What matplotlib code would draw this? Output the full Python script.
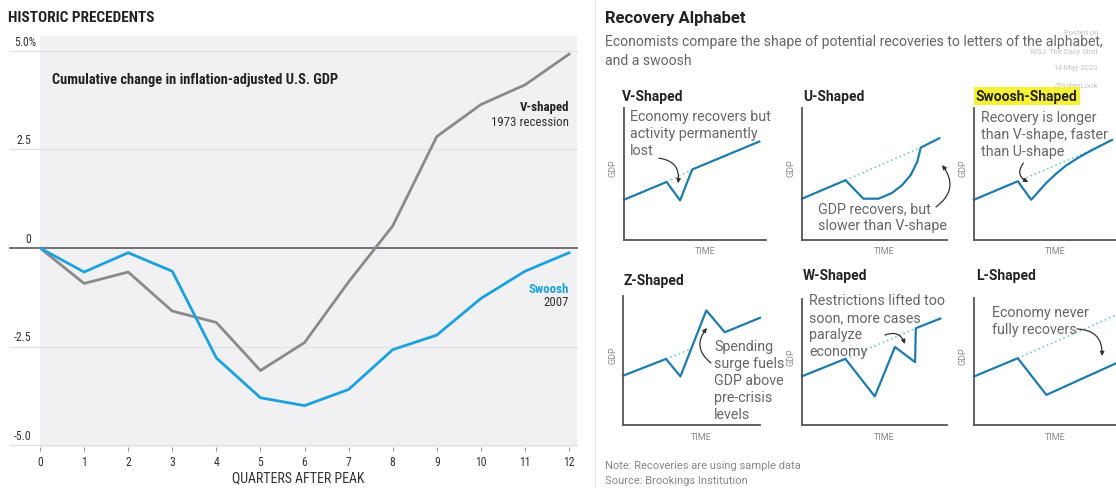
import matplotlib
matplotlib.use('Agg')
import matplotlib.pyplot as plt
from matplotlib.lines import Line2D
from matplotlib import font_manager

W, H = 1116, 489

# pick a condensed face for the left chart if one is installed
_fonts = font_manager.fontManager.ttflist
_names = {f.name for f in _fonts}
NARROW_STRETCH = 'normal'
NARROW = None
for cand in ['Liberation Sans Narrow', 'Roboto Condensed', 'DejaVu Sans Condensed', 'Open Sans Condensed']:
    if cand in _names:
        NARROW = [cand, 'DejaVu Sans']
        break
if NARROW is None:
    if any(f.name == 'DejaVu Sans' and f.stretch == 'condensed' for f in _fonts):
        NARROW = ['DejaVu Sans']
        NARROW_STRETCH = 'condensed'
    else:
        NARROW = ['Roboto', 'DejaVu Sans']
SANS = ['Roboto', 'DejaVu Sans']

# left chart: cumulative change in real GDP (%), quarters after peak
quarters = list(range(13))
v_shaped_1973 = [0, -0.90, -0.61, -1.60, -1.89, -3.11, -2.40, -0.86, 0.56, 2.83, 3.64, 4.14, 4.92]
swoosh_2007 = [0, -0.61, -0.12, -0.59, -2.79, -3.80, -4.00, -3.59, -2.58, -2.21, -1.28, -0.59, -0.12]
y_ticks = [5.0, 2.5, 0, -2.5, -5.0]
y_tick_labels = ['5.0%', '2.5', '0', '-2.5', '-5.0']

# right panel: sample recovery shapes (axes fraction units)
v_x = [0, 0.30, 0.395, 0.48, 0.953]
v_y = [0.305, 0.44, 0.30, 0.534, 0.746]
v_trend_x = [0.30, 0.48]
v_trend_y = [0.44, 0.534]

u_x = [0, 0.30, 0.423, 0.528, 0.62, 0.69, 0.749, 0.795, 0.819, 0.947]
u_y = [0.313, 0.453, 0.313, 0.313, 0.356, 0.415, 0.491, 0.593, 0.70, 0.771]
u_trend_x = [0.30, 0.819]
u_trend_y = [0.453, 0.70]

sw_x = [0, 0.306, 0.40, 0.459, 0.506, 0.576, 0.647, 0.741, 0.835, 0.965]
sw_y = [0.305, 0.445, 0.305, 0.376, 0.433, 0.504, 0.567, 0.631, 0.687, 0.758]
sw_trend_x = [0.306, 0.835]
sw_trend_y = [0.445, 0.687]

z_x = [0, 0.314, 0.419, 0.608, 0.743, 1.0]
z_y = [0.382, 0.512, 0.377, 0.888, 0.719, 0.831]
z_trend_x = [0.314, 0.50]
z_trend_y = [0.512, 0.59]

w_x = [0, 0.299, 0.502, 0.641, 0.78, 0.785, 0.954]
w_y = [0.387, 0.525, 0.227, 0.619, 0.499, 0.768, 0.845]
w_trend_x = [0.299, 0.785]
w_trend_y = [0.525, 0.768]

l_x = [0, 0.306, 0.506, 0.995]
l_y = [0.382, 0.526, 0.237, 0.487]
l_trend_x = [0.306, 0.995]
l_trend_y = [0.526, 0.866]


def box(x0, y0, x1, y1):
    return [x0 / W, 1 - y1 / H, (x1 - x0) / W, (y1 - y0) / H]


fig = plt.figure(figsize=(W / 100, H / 100), dpi=100)
fig.patch.set_facecolor('white')


def ftext(x, y, s, **kw):
    kw.setdefault('va', 'center')
    fig.text(x / W, 1 - y / H, s, **kw)


NK = dict(family=NARROW, fontstretch=NARROW_STRETCH)

# ---------------- left chart ----------------
ax = fig.add_axes(box(40, 37, 577, 448))
ax.set_facecolor('#f1f1f4')
ax.set_xlim(0, 12.18)
ax.set_ylim(-5.05, 5.38)
for s in ax.spines.values():
    s.set_visible(False)

for v, lab in zip(y_ticks, y_tick_labels):
    if v == 0:
        ax.axhline(v, xmin=-0.056, xmax=1, color='#666666', lw=1.3, clip_on=False, zorder=2)
    else:
        ax.axhline(v, xmin=-0.056, xmax=1, color='#e2e2e6', lw=1.0, clip_on=False, zorder=1)
    xoff = -0.006 if lab.endswith('%') else -0.017
    ax.text(xoff, v + 0.08, lab, transform=ax.get_yaxis_transform(), ha='right', va='bottom',
            fontsize=8.5, color='#333333', **NK)

ax.plot(quarters, v_shaped_1973, color='#8a8a8a', lw=2.0, zorder=3)
ax.plot(quarters, swoosh_2007, color='#1ba1dc', lw=2.0, zorder=4)

ax.set_yticks([])
ax.set_xticks(quarters)
ax.set_xticklabels([str(q) for q in quarters], fontsize=8.5, color='#333333', **NK)
ax.tick_params(axis='x', length=3, width=0.8, color='#999999', pad=3)
ftext(298, 478, 'QUARTERS AFTER PEAK', fontsize=10, color='#333333', ha='center', **NK)

ax.text(12, 3.60, 'V-shaped', ha='right', va='center', fontsize=9.3, fontweight='bold',
        color='#222222', **NK)
ax.text(12, 3.22, '1973 recession', ha='right', va='center', fontsize=9.3, color='#333333', **NK)
ax.text(12, -1.02, 'Swoosh', ha='right', va='center', fontsize=9.3, fontweight='bold',
        color='#1ba1dc', **NK)
ax.text(12, -1.37, '2007', ha='right', va='center', fontsize=9.3, color='#333333', **NK)

ftext(8, 18, 'HISTORIC PRECEDENTS', fontsize=11, fontweight='bold', color='#222222', **NK)
ftext(52, 80, 'Cumulative change in inflation-adjusted U.S. GDP', fontsize=10.4, fontweight='bold',
      color='#222222', **NK)

# separator
fig.add_artist(Line2D([595 / W, 595 / W], [0, 1], color='#e6e6e6', lw=1.0))

# ---------------- right panel ----------------
ftext(605, 18, 'Recovery Alphabet', fontsize=12, fontweight='bold', color='#222222', family=SANS)
ftext(605, 42, 'Economists compare the shape of potential recoveries to letters of the alphabet,',
      fontsize=10.05, color='#666666', family=SANS)
ftext(605, 61, 'and a swoosh', fontsize=10.05, color='#666666', family=SANS)

for y, s in [(33, 'Posted on'), (52, 'WSJ: The Daily Shot'), (68, '14-May-2020'), (86, '@SoberLook')]:
    ftext(1098, y, s, fontsize=5.5, color='#c4c4c4', ha='right', family=SANS)

LINE_C = '#1e7bab'
TREND_C = '#8ccbd6'


def mini(rect, title_xy, title, xs, ys, tx, ty, note_xy, note, a_from, a_to, rad, time_y, highlight=False):
    m = fig.add_axes(box(*rect))
    m.set_xlim(0, 1)
    m.set_ylim(0, 1)
    m.patch.set_alpha(0)
    m.spines['top'].set_visible(False)
    m.spines['right'].set_visible(False)
    for k in ('left', 'bottom'):
        m.spines[k].set_color('#555555')
        m.spines[k].set_linewidth(1.3)
    m.set_xticks([])
    m.set_yticks([])
    m.plot(tx, ty, color=TREND_C, lw=1.3, ls=(0, (1, 1.5)), clip_on=False)
    m.plot(xs, ys, color=LINE_C, lw=1.6, clip_on=False)
    m.text(-0.075, 0.55, 'GDP', rotation=90, transform=m.transAxes, ha='center', va='center',
           fontsize=6.5, color='#888888', family=SANS)
    m.text(0.57, time_y, 'TIME', transform=m.transAxes, ha='center', va='center',
           fontsize=6.5, color='#888888', family=SANS)
    m.annotate('', xy=a_to, xytext=a_from, xycoords='axes fraction',
               arrowprops=dict(arrowstyle='-|>', connectionstyle='arc3,rad=%s' % rad,
                               color='#333333', lw=0.9, mutation_scale=6, shrinkA=0, shrinkB=0))
    kw = dict(fontsize=10, fontweight='bold', color='#222222', family=SANS)
    if highlight:
        kw['bbox'] = dict(boxstyle='square,pad=0.15', fc='#f7f035', ec='none')
    ftext(title_xy[0], title_xy[1], title, **kw)
    ftext(note_xy[0], note_xy[1], note, fontsize=10.3, color='#666666', family=SANS,
          va='top', linespacing=1.27)


mini((624, 109, 766, 241), (622, 97), 'V-Shaped', v_x, v_y, v_trend_x, v_trend_y,
     (630, 110), 'Economy recovers but\nactivity permanently\nlost', (0.246, 0.62), (0.38, 0.43), -0.5, -0.076)
mini((802, 109, 947, 241), (803, 97), 'U-Shaped', u_x, u_y, u_trend_x, u_trend_y,
     (818, 202), 'GDP recovers, but\nslower than V-shape', (0.924, 0.25), (0.966, 0.568), 0.5, -0.076)
mini((974, 109, 1117, 241), (976, 97), 'Swoosh-Shaped', sw_x, sw_y, sw_trend_x, sw_trend_y,
     (981, 111), 'Recovery is longer\nthan V-shape, faster\nthan U-shape', (0.345, 0.583), (0.38, 0.44), 0.6, -0.076,
     highlight=True)
mini((623, 297, 760, 426), (623, 281), 'Z-Shaped', z_x, z_y, z_trend_x, z_trend_y,
     (714, 340), 'Spending\nsurge fuels\nGDP above\npre-crisis\nlevels', (0.642, 0.481), (0.613, 0.752), -0.5, -0.09)
mini((802, 300, 947, 426), (803, 276), 'W-Shaped', w_x, w_y, w_trend_x, w_trend_y,
     (809, 294), 'Restrictions lifted too\nsoon, more cases\nparalyze\neconomy', (0.572, 0.714), (0.71, 0.643), -0.5, -0.09)
mini((974, 299, 1117, 426), (976, 276), 'L-Shaped', l_x, l_y, l_trend_x, l_trend_y,
     (992, 306), 'Economy never\nfully recovers', (0.72, 0.756), (0.895, 0.543), -0.5, -0.09)

ftext(605, 466, 'Note: Recoveries are using sample data', fontsize=8, color='#888888', family=SANS)
ftext(605, 481, 'Source: Brookings Institution', fontsize=8, color='#888888', family=SANS)

fig.savefig('out.png', dpi=100)
